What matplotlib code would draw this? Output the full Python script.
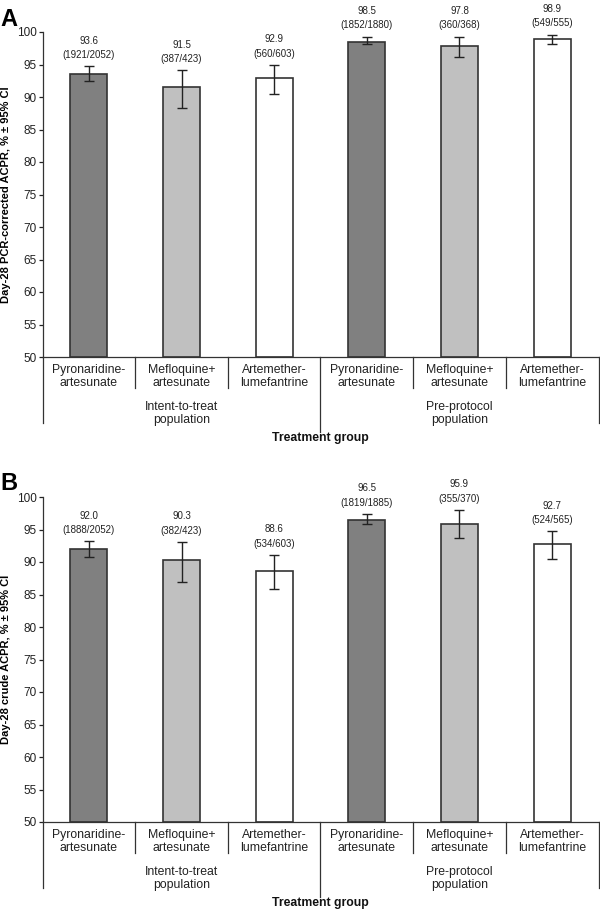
import matplotlib
matplotlib.use("Agg")
import matplotlib.pyplot as plt
import numpy as np

plt.rcParams['font.family'] = ['Liberation Sans', 'DejaVu Sans']
NARROW = ['Liberation Sans Narrow', 'Liberation Sans']

categories = ["Pyronaridine-\nartesunate", "Mefloquine+\nartesunate", "Artemether-\nlumefantrine",
              "Pyronaridine-\nartesunate", "Mefloquine+\nartesunate", "Artemether-\nlumefantrine"]
groups = ["Intent-to-treat\npopulation", "Pre-protocol\npopulation"]
colors = ["#808080", "#c0c0c0", "#ffffff", "#808080", "#c0c0c0", "#ffffff"]

# Panel A: PCR-corrected
a_values = [93.6, 91.5, 92.9, 98.5, 97.8, 98.9]
a_low = [92.5, 88.3, 90.5, 98.1, 96.2, 98.1]
a_high = [94.7, 94.1, 94.9, 99.3, 99.3, 99.6]
a_counts = ["(1921/2052)", "(387/423)", "(560/603)", "(1852/1880)", "(360/368)", "(549/555)"]

# Panel B: crude
b_values = [92.0, 90.3, 88.6, 96.5, 95.9, 92.7]
b_low = [90.7, 87.0, 85.8, 95.9, 93.7, 90.4]
b_high = [93.2, 93.1, 91.1, 97.4, 98.0, 94.7]
b_counts = ["(1888/2052)", "(382/423)", "(534/603)", "(1819/1885)", "(355/370)", "(524/565)"]

W, H = 600, 911
fig = plt.figure(figsize=(6, 9.11), dpi=100)


def panel(top_px, bottom_px, values, low, high, counts, ylabel, letter):
    left_px, right_px = 42.5, 598.5
    wpx = right_px - left_px
    ax = fig.add_axes([left_px / W, 1 - bottom_px / H, wpx / W, (bottom_px - top_px) / H])
    hpx = bottom_px - top_px
    x = np.arange(len(values))
    v = np.array(values)
    yerr = np.array([v - np.array(low), np.array(high) - v])
    ax.bar(x, v - 50, bottom=50, width=0.4, color=colors, edgecolor="#333333", linewidth=1.2, zorder=2)
    ax.errorbar(x, v, yerr=yerr, fmt='none', ecolor="#222222", elinewidth=1.0, capsize=3.8, capthick=1.0, zorder=3)
    for xi, val, hi, c in zip(x, values, high, counts):
        ax.annotate(f"{val:.1f}\n{c}", xy=(xi, hi), xytext=(0, 4.5), textcoords='offset points',
                    ha='center', va='bottom', fontsize=7, linespacing=1.55,
                    family=NARROW, color="#222222")
    ax.set_xlim(-0.5, 5.5)
    ax.set_ylim(50, 100)
    ax.set_yticks(np.arange(50, 101, 5))
    ax.tick_params(axis='y', labelsize=8.5, length=3, width=0.9, colors="#222222", pad=1)
    for lab in ax.get_yticklabels():
        lab.set_family(NARROW)
    ax.set_xticks([])
    for s in ['top', 'right']:
        ax.spines[s].set_visible(False)
    for s in ['left', 'bottom']:
        ax.spines[s].set_color("#333333")
        ax.spines[s].set_linewidth(0.9)
    ax.set_ylabel(ylabel, fontsize=8, fontweight='bold')
    ax.yaxis.label.set_verticalalignment('center')
    ax.yaxis.set_label_coords((6.5 - left_px) / wpx, 0.5)
    tr = ax.get_xaxis_transform()
    # separators
    short = -31 / hpx
    longo = -66 / hpx
    mid = -75 / hpx
    for b in [0.5, 1.5, 3.5, 4.5]:
        ax.plot([b, b], [0, short], transform=tr, color="#333333", lw=0.9, clip_on=False)
    for b in [-0.5, 5.5]:
        ax.plot([b, b], [0, longo], transform=tr, color="#333333", lw=0.9, clip_on=False)
    ax.plot([2.5, 2.5], [0, mid], transform=tr, color="#333333", lw=0.9, clip_on=False)
    for xi, cat in zip(x, categories):
        ax.text(xi, -7 / hpx, cat, transform=tr, ha='center', va='top', fontsize=8.8, linespacing=1.1,
                color="#222222")
    for gx, g in zip([1, 4], groups):
        ax.text(gx, -44 / hpx, g, transform=tr, ha='center', va='top', fontsize=8.8, linespacing=1.1,
                color="#222222")
    ax.text(2.5, -81 / hpx, "Treatment group", transform=tr, ha='center', va='center', fontsize=8.8,
            fontweight='bold', color="#111111")
    fig.text(0 / W, 1 - (top_px - 13) / H, letter, fontsize=17, fontweight='bold', ha='left', va='center')
    return ax


panel(32, 357, a_values, a_low, a_high, a_counts, "Day-28 PCR-corrected ACPR, % ± 95% CI", "A")
panel(497, 822, b_values, b_low, b_high, b_counts, "Day-28 crude ACPR, % ± 95% CI", "B")

fig.savefig("out.png", dpi=100)
